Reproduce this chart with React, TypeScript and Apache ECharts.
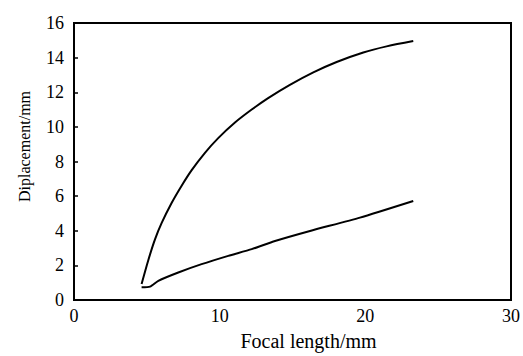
import React, { useEffect, useRef } from "react";
import * as echarts from "echarts";

const xTicks = [0, 10, 20, 30];
const yTicks = [0, 2, 4, 6, 8, 10, 12, 14, 16];

const upperX = [4.64, 5.1, 5.56, 6.02, 6.7, 7.39, 8.08, 8.99, 9.9, 11.05, 12.2, 13.3, 14.82, 16.43, 18.03, 19.86, 21.46, 23.29];
const upperY = [0.92, 2.3, 3.5, 4.45, 5.6, 6.6, 7.5, 8.5, 9.35, 10.25, 11.0, 11.65, 12.43, 13.15, 13.75, 14.3, 14.65, 14.96];

const lowerX = [4.64, 5.22, 5.79, 7.16, 8.76, 10.59, 12.2, 13.8, 16.2, 19.63, 23.29];
const lowerY = [0.73, 0.77, 1.11, 1.59, 2.07, 2.55, 2.94, 3.41, 3.99, 4.76, 5.72];

const xName = "Focal length/mm";
const yName = "Diplacement/mm";

const font = "Liberation Serif";

export default function App() {
  const ref = useRef<HTMLDivElement>(null);
  useEffect(() => {
    if (!ref.current) return;
    const chart = echarts.init(ref.current, null, { renderer: "svg" });
    const pair = (xs: number[], ys: number[]) => xs.map((x, i) => [x, ys[i]]);
    const labelRich = { t: { fontFamily: font, fontSize: 18, color: "#000" } };
    chart.setOption({
      animation: false,
      backgroundColor: "#fff",
      textStyle: { fontFamily: font, color: "#000" },
      grid: {
        left: 74,
        right: 12,
        top: 23,
        bottom: 55,
        show: true,
        borderColor: "#000",
        borderWidth: 2,
      },
      xAxis: {
        type: "value",
        min: xTicks[0],
        max: xTicks[xTicks.length - 1],
        interval: 10,
        name: xName,
        nameLocation: "middle",
        nameGap: 31,
        nameTextStyle: { fontFamily: font, fontSize: 20, color: "#000", padding: [0, 0, 0, 32] },
        axisLine: { show: true, lineStyle: { color: "#000", width: 2 } },
        axisTick: { show: false },
        splitLine: { show: false },
        axisLabel: {
          fontFamily: font,
          fontSize: 18,
          color: "#000",
          margin: 7,
          formatter: "{t|{value}}",
          rich: labelRich,
        },
      },
      yAxis: {
        type: "value",
        min: yTicks[0],
        max: yTicks[yTicks.length - 1],
        interval: 2,
        name: yName,
        nameLocation: "middle",
        nameGap: 42,
        nameRotate: 90,
        nameTextStyle: { fontFamily: font, fontSize: 16, color: "#000", padding: [0, 0, 0, 30] },
        axisLine: { show: true, lineStyle: { color: "#000", width: 2 } },
        axisTick: { show: true, inside: true, length: 4, lineStyle: { color: "#000", width: 1.5 } },
        splitLine: { show: false },
        axisLabel: {
          fontFamily: font,
          fontSize: 18,
          color: "#000",
          margin: 10,
          formatter: "{t|{value}}",
          rich: labelRich,
        },
      },
      series: [
        {
          type: "line",
          data: pair(upperX, upperY),
          smooth: 0.3,
          showSymbol: false,
          lineStyle: { color: "#000", width: 2 },
        },
        {
          type: "line",
          data: pair(lowerX, lowerY),
          smooth: 0.2,
          showSymbol: false,
          lineStyle: { color: "#000", width: 2 },
        },
      ],
    });
    return () => chart.dispose();
  }, []);
  return (
    <div
      ref={ref}
      style={{ position: "fixed", left: 0, top: 0, width: 523, height: 356, background: "#fff" }}
    />
  );
}
